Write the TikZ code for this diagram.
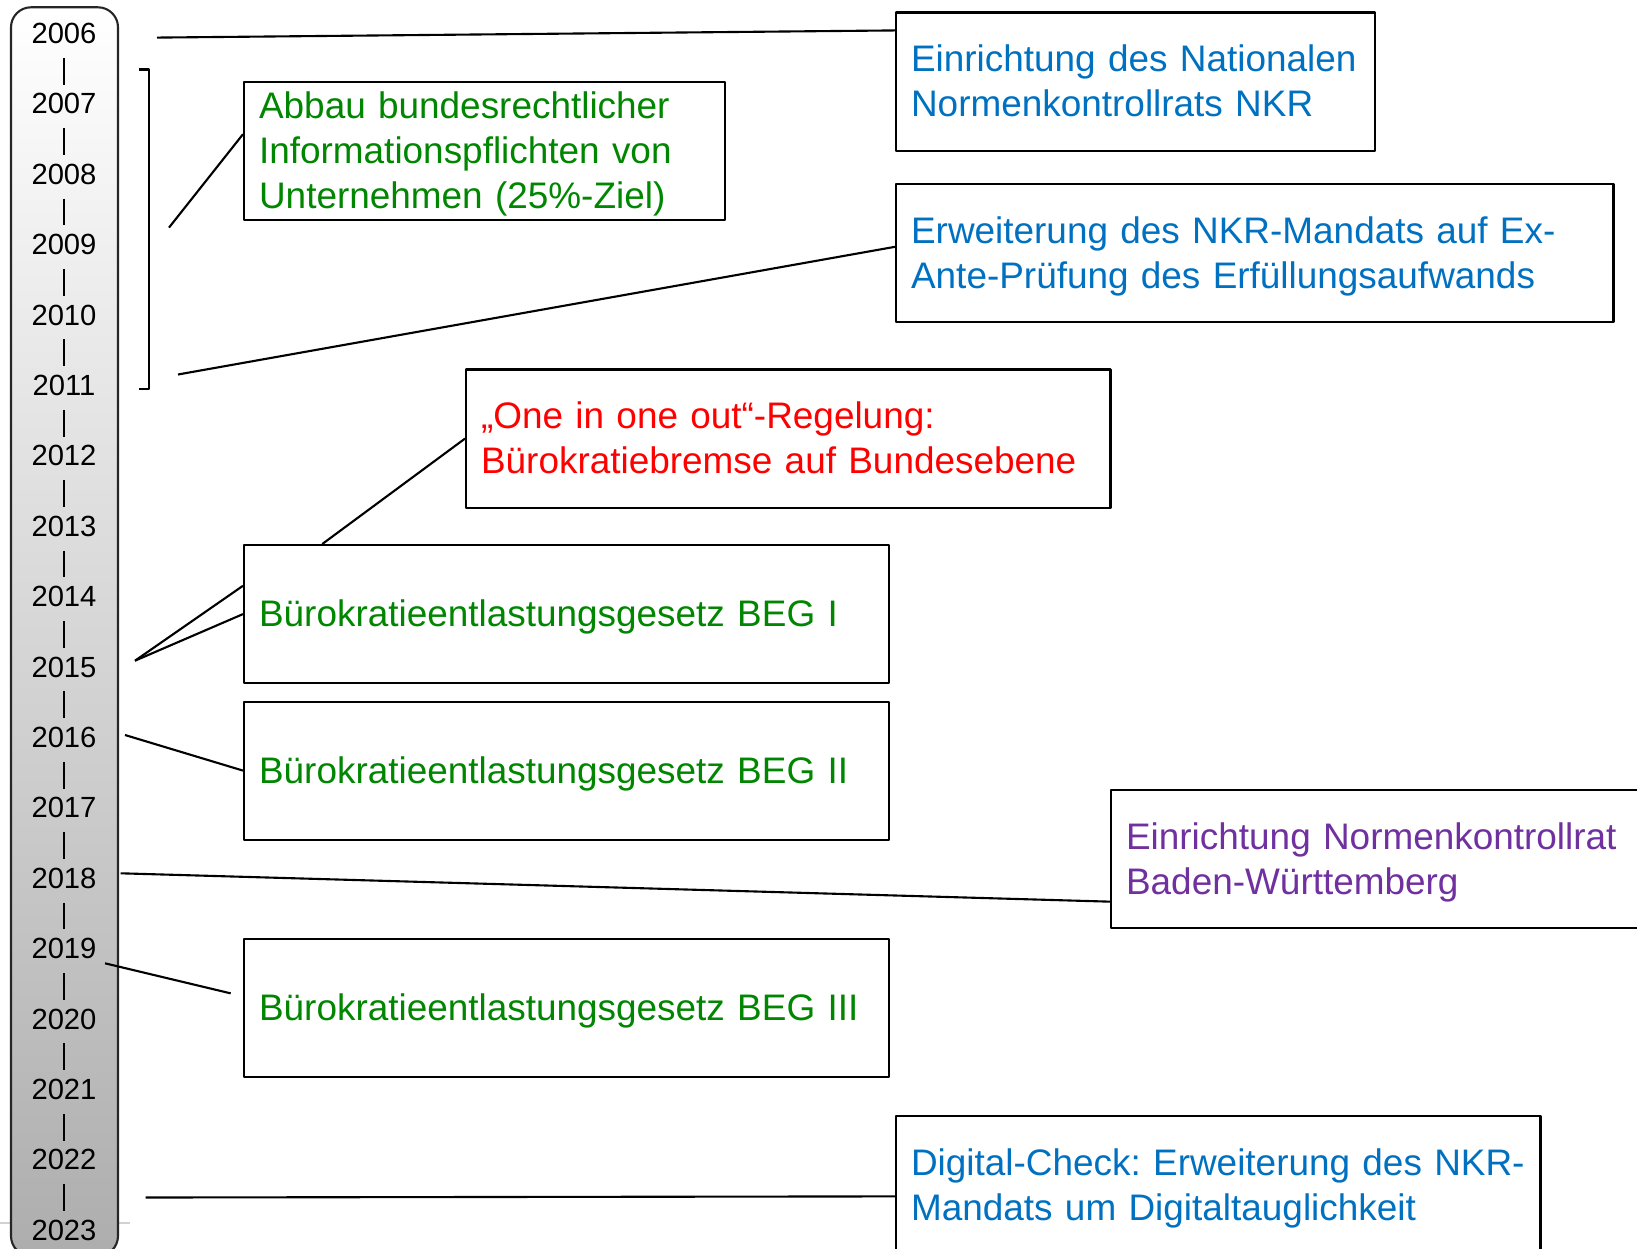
\documentclass[tikz,border=0pt]{standalone}
\usepackage{fontspec}
\setmainfont{Liberation Sans}
\definecolor{nkrblue}{RGB}{0,112,192}
\definecolor{beggreen}{RGB}{0,134,0}
\definecolor{rulered}{RGB}{255,0,0}
\definecolor{bwpurple}{RGB}{112,48,160}
\newcommand{\evstrut}{\rule[-0.212em]{0pt}{1.117em}}
\begin{document}
\begin{tikzpicture}[x=0.01cm, y=-0.01cm, line join=round,
  year/.style={inner sep=0pt, font=\fontsize{8.3}{9.9}\selectfont},
  event/.style={draw, line width=0.6pt, anchor=north west, align=left, inner xsep=1.5mm, inner ysep=0pt, minimum height=1.38cm,
    font=\fontsize{10.5}{12.8}\selectfont, execute at begin node={\frenchspacing\evstrut}, execute at end node={\evstrut}},
  link/.style={line width=0.6pt}]
\useasboundingbox (0,0) rectangle (1637,1249);
\clip (0,0) rectangle (1637,1249);
\draw[black!18, line width=0.8pt] (0,1223) -- (130,1223);
\draw[rounded corners=2mm, top color=white, middle color=white, bottom color=black!32, draw=black!85, line width=0.6pt] (11,7.3) rectangle (118,1256);
\foreach \yr [count=\i from 0] in {2006,...,2023}
  \node[year] (y\yr) at (64,{33.4+70.4*\i}) {\yr};
\foreach \yr in {2006,...,2022}{
  \pgfmathtruncatemacro\nxt{\yr+1}
  \draw[line width=0.6pt, shorten <=3.8pt, shorten >=2.3pt] (y\yr.south) -- (y\nxt.north);
}
\draw[link] (139,69.5) -| (149,389) -- (139,389);

\node[event, text width=4.49cm, text=nkrblue] (nkr) at (895,11.5) {\mbox{Einrichtung des Nationalen}\\Normenkontrollrats NKR};
\node[event, text width=4.51cm, text=beggreen] (abbau) at (243,81) {Abbau bundesrechtlicher\\Informationspflichten von\\Unternehmen (25\%-Ziel)};
\node[event, text width=6.87cm, text=nkrblue] (exante) at (895,183) {\mbox{Erweiterung des NKR-Mandats auf Ex-}\\Ante-Prüfung des Erfüllungsaufwands};
\node[event, text width=6.14cm, text=rulered] (oioo) at (465,368.5) {„One in one out“-Regelung:\\Bürokratiebremse auf Bundesebene};
\node[event, text width=6.15cm, text=beggreen] (beg1) at (243,544) {Bürokratieentlastungsgesetz BEG I};
\node[event, text width=6.15cm, text=beggreen] (beg2) at (243,700.5) {Bürokratieentlastungsgesetz BEG II};
\node[event, text width=5.05cm, text=bwpurple] (bw) at (1110,789) {\mbox{Einrichtung Normenkontrollrat}\\Baden-Württemberg};
\node[event, text width=6.15cm, text=beggreen] (beg3) at (243,937.5) {Bürokratieentlastungsgesetz BEG III};
\node[event, text width=6.14cm, text=nkrblue] (digital) at (895,1115) {\mbox{Digital-Check: Erweiterung des NKR-}\\Mandats um Digitaltauglichkeit};

\coordinate (from2006) at (157,37.6);
\coordinate (brk) at (169,227.6);
\coordinate (from2011) at (178,374.5);
\coordinate (from2015) at (135,660.7);
\coordinate (from2016) at (125,735);
\coordinate (from2018) at (120.7,873.3);
\coordinate (from2019) at (105,963.3);
\coordinate (from2022) at (145.7,1197.5);

\draw[link] (from2006) -- (nkr.168.2);
\draw[link] (brk) -- (abbau.176.7);
\draw[link] (from2011) -- (exante.179.3);
\draw[link] (beg1.164.8) -- (oioo.180.7);
\draw[link] (from2015) -- (beg1.175.7);
\draw[link] (from2015) -- (beg1.180.7);
\draw[link] (from2016) -- (beg2.180.45);
\draw[link] (from2018) -- (bw.189.4);
\draw[link, shorten >=3.6pt] (from2019) -- (beg3.178.8);
\draw[link] (from2022) -- (digital.182.2);
\end{tikzpicture}
\end{document}
